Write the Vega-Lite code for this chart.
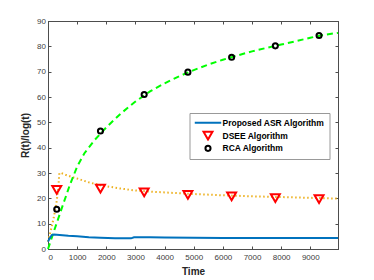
{
  "$schema": "https://vega.github.io/schema/vega-lite/v6.json",
  "width": 290,
  "height": 228,
  "autosize": "none",
  "padding": {"left": 48, "top": 21, "right": 36, "bottom": 31},
  "background": "white",
  "config": {
    "font": "Liberation Sans",
    "view": {"stroke": "#4d4d4d", "strokeWidth": 1},
    "axis": {
      "grid": false,
      "domainColor": "#4d4d4d",
      "tickColor": "#4d4d4d",
      "tickSize": -3,
      "labelColor": "#404040",
      "labelFontSize": 8,
      "labelFont": "Liberation Sans",
      "titleFont": "Liberation Sans",
      "titleFontSize": 10,
      "titleFontWeight": "bold",
      "titleColor": "#262626"
    }
  },
  "datasets": {
    "asr": [
      {"t": 0, "v": 2.9}, {"t": 60, "v": 4.2}, {"t": 130, "v": 5.5}, {"t": 200, "v": 5.7},
      {"t": 400, "v": 5.5}, {"t": 700, "v": 5.2}, {"t": 1000, "v": 5.0}, {"t": 1400, "v": 4.6},
      {"t": 1800, "v": 4.4}, {"t": 2300, "v": 4.2}, {"t": 2850, "v": 4.2}, {"t": 2950, "v": 4.6},
      {"t": 3500, "v": 4.6}, {"t": 4000, "v": 4.5}, {"t": 5000, "v": 4.4}, {"t": 6000, "v": 4.3},
      {"t": 7000, "v": 4.3}, {"t": 8000, "v": 4.3}, {"t": 9000, "v": 4.3}, {"t": 9950, "v": 4.3}
    ],
    "dsee": [
      {"t": 0, "v": 2.9}, {"t": 100, "v": 7.5}, {"t": 200, "v": 12.5}, {"t": 300, "v": 19},
      {"t": 350, "v": 24}, {"t": 390, "v": 30}, {"t": 450, "v": 30}, {"t": 600, "v": 29.3},
      {"t": 800, "v": 28.5}, {"t": 1000, "v": 27.8}, {"t": 1400, "v": 26.3}, {"t": 1800, "v": 25.2},
      {"t": 2400, "v": 24}, {"t": 3000, "v": 23.1}, {"t": 3600, "v": 22.6}, {"t": 4200, "v": 22.2},
      {"t": 5000, "v": 21.7}, {"t": 6000, "v": 21.2}, {"t": 7000, "v": 20.8}, {"t": 8000, "v": 20.5},
      {"t": 9000, "v": 20.2}, {"t": 9950, "v": 19.9}
    ],
    "rca": [
      {"t": 0, "v": 0}, {"t": 250, "v": 8.6}, {"t": 500, "v": 17}, {"t": 750, "v": 25.3},
      {"t": 1000, "v": 32.5}, {"t": 1250, "v": 37.8}, {"t": 1600, "v": 43}, {"t": 2000, "v": 48},
      {"t": 2500, "v": 53.5}, {"t": 3000, "v": 58.2}, {"t": 3500, "v": 62.2}, {"t": 4000, "v": 65.4},
      {"t": 4500, "v": 68.2}, {"t": 5000, "v": 70.6}, {"t": 5500, "v": 72.8}, {"t": 6000, "v": 74.7},
      {"t": 6500, "v": 76.4}, {"t": 7000, "v": 78}, {"t": 7500, "v": 79.4}, {"t": 8000, "v": 80.7},
      {"t": 8500, "v": 82}, {"t": 9000, "v": 83.4}, {"t": 9500, "v": 84.6}, {"t": 9950, "v": 85.3}
    ],
    "markers": [
      {"series": "DSEE Algorithm", "t": 300, "v": 23.3},
      {"series": "DSEE Algorithm", "t": 1800, "v": 23.8},
      {"series": "DSEE Algorithm", "t": 3300, "v": 22.4},
      {"series": "DSEE Algorithm", "t": 4800, "v": 21.4},
      {"series": "DSEE Algorithm", "t": 6300, "v": 20.8},
      {"series": "DSEE Algorithm", "t": 7800, "v": 20.1},
      {"series": "DSEE Algorithm", "t": 9300, "v": 19.7},
      {"series": "RCA Algorithm", "t": 300, "v": 15.7},
      {"series": "RCA Algorithm", "t": 1800, "v": 46.6},
      {"series": "RCA Algorithm", "t": 3300, "v": 61},
      {"series": "RCA Algorithm", "t": 4800, "v": 69.8},
      {"series": "RCA Algorithm", "t": 6300, "v": 75.7},
      {"series": "RCA Algorithm", "t": 7800, "v": 80.2},
      {"series": "RCA Algorithm", "t": 9300, "v": 84.3}
    ]
  },
  "layer": [
    {
      "data": {"name": "dsee"},
      "mark": {"type": "line", "color": "#EDB120", "strokeWidth": 2, "strokeDash": [1.5, 2.5]},
      "encoding": {
        "x": {"field": "t", "type": "quantitative",
          "scale": {"domain": [0, 9950], "nice": false, "zero": false},
          "axis": {"orient": "bottom", "values": [0, 1000, 2000, 3000, 4000, 5000, 6000, 7000, 8000, 9000], "format": "d", "labelPadding": 7, "title": "Time", "titlePadding": 5.5}},
        "y": {"field": "v", "type": "quantitative",
          "scale": {"domain": [0, 90], "nice": false, "zero": false},
          "axis": {"orient": "left", "values": [0, 10, 20, 30, 40, 50, 60, 70, 80, 90], "labelPadding": 5.5, "title": "R(t)/log(t)", "titlePadding": 6}}
      }
    },
    {
      "data": {"name": "rca"},
      "mark": {"type": "line", "color": "#00FF00", "strokeWidth": 2, "strokeDash": [6, 4]},
      "encoding": {
        "x": {"field": "t", "type": "quantitative",
          "axis": {"orient": "top", "values": [0, 1000, 2000, 3000, 4000, 5000, 6000, 7000, 8000, 9000], "labels": false, "title": null}},
        "y": {"field": "v", "type": "quantitative",
          "axis": {"orient": "right", "values": [0, 10, 20, 30, 40, 50, 60, 70, 80, 90], "labels": false, "title": null}}
      }
    },
    {
      "data": {"name": "asr"},
      "mark": {"type": "line", "color": "#0072BD", "strokeWidth": 2},
      "encoding": {
        "x": {"field": "t", "type": "quantitative", "axis": null},
        "y": {"field": "v", "type": "quantitative", "axis": null}
      }
    },
    {
      "data": {"name": "markers"},
      "mark": {"type": "point", "filled": false, "strokeWidth": 2, "opacity": 1},
      "encoding": {
        "x": {"field": "t", "type": "quantitative", "axis": null},
        "y": {"field": "v", "type": "quantitative", "axis": null},
        "color": {"field": "series", "type": "nominal",
          "scale": {"domain": ["Proposed ASR Algorithm", "DSEE Algorithm", "RCA Algorithm"], "range": ["#0072BD", "#FF0000", "#000000"]},
          "legend": {
            "orient": "none", "legendX": 141.5, "legendY": 92, "title": null,
            "fillColor": "white", "strokeColor": "#999999", "padding": 4,
            "labelFont": "Liberation Sans", "labelFontSize": 8.5, "labelFontWeight": "bold", "labelColor": "#000000",
            "labelOffset": 0, "clipHeight": 11.5, "rowPadding": 0.8, "symbolStrokeWidth": 2, "symbolFillColor": "transparent"
          }},
        "shape": {"field": "series", "type": "nominal",
          "scale": {"domain": ["Proposed ASR Algorithm", "DSEE Algorithm", "RCA Algorithm"], "range": ["stroke", "triangle-down", "circle"]}},
        "size": {"field": "series", "type": "nominal",
          "scale": {"type": "ordinal", "domain": ["Proposed ASR Algorithm", "DSEE Algorithm", "RCA Algorithm"], "range": [700, 80, 26]}}
      }
    }
  ],
  "resolve": {"axis": {"x": "independent", "y": "independent"}}
}
